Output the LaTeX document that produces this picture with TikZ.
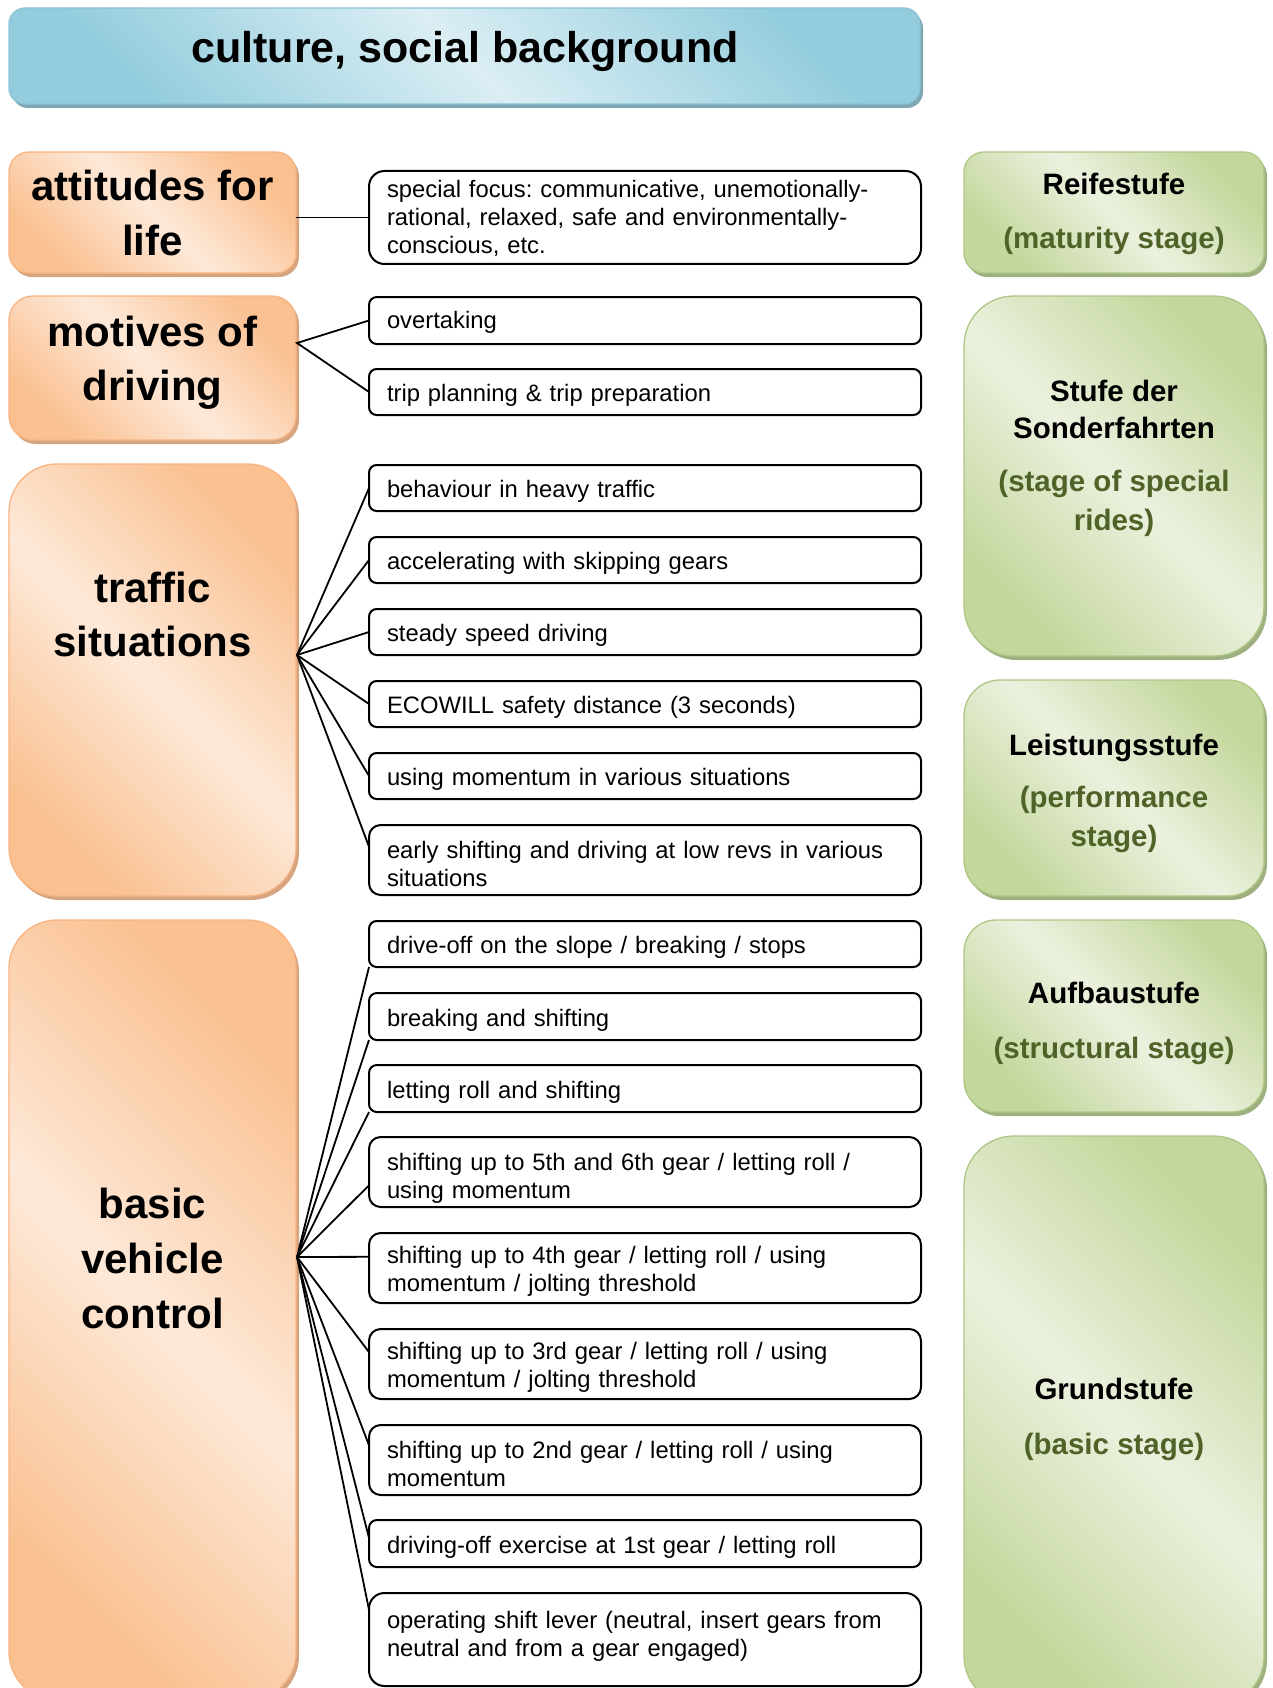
\documentclass[tikz,border=0pt]{standalone}
\usepackage{fontspec}
\setmainfont{Liberation Sans}
\usetikzlibrary{shadows,calc}
\definecolor{oLite}{HTML}{FDE9D9}
\definecolor{oDark}{HTML}{FAC090}
\definecolor{oEdge}{HTML}{F8B584}
\definecolor{oShd}{HTML}{D6A47E}
\definecolor{gLite}{HTML}{EBF1DE}
\definecolor{gDark}{HTML}{C3D69B}
\definecolor{gEdge}{HTML}{AEC785}
\definecolor{gShd}{HTML}{9EB07F}
\definecolor{gText}{HTML}{4F6228}
\definecolor{bLite}{HTML}{DBEEF4}
\definecolor{bDark}{HTML}{93CDDD}
\definecolor{bEdge}{HTML}{8AC4D4}
\definecolor{bShd}{HTML}{7FA7B3}
\newcommand{\bannerfont}{\fontsize{43}{50}\selectfont\bfseries}
\newcommand{\topicfont}{\fontsize{42}{54}\selectfont\bfseries}
\newcommand{\stagefont}{\fontsize{29.5}{37}\selectfont\bfseries}
\newcommand{\itemfont}{\fontsize{23.8}{28}\selectfont}
\frenchspacing

\begin{document}
\begin{tikzpicture}[x=1pt,y=-1pt,every node/.style={inner sep=0pt,outer sep=0pt},
  bigbox/.style={anchor=north west,line width=1.3pt,rounded corners=#1},
  banner/.style={bigbox=#1,draw=bEdge,top color=bDark,bottom color=bDark,middle color=bLite,shading angle=-45,
    drop shadow={shadow xshift=3pt,shadow yshift=-4pt,fill=bShd,opacity=1}},
  topic/.style={bigbox=#1,draw=oEdge,top color=oDark,bottom color=oDark,middle color=oLite,shading angle=-45,
    drop shadow={shadow xshift=3pt,shadow yshift=-4pt,fill=oShd,opacity=1}},
  stage/.style={bigbox=#1,draw=gEdge,top color=gDark,bottom color=gDark,middle color=gLite,shading angle=-45,
    drop shadow={shadow xshift=3pt,shadow yshift=-4pt,fill=gShd,opacity=1}},
  item/.style={anchor=north west,draw,fill=white,line width=2pt,rounded corners={#1pt/6},
    minimum height=#1pt,text width=516pt,inner xsep=18pt,align=left,font=\itemfont},
  lift/.style={execute at begin node={\rule{0pt}{#1pt}}},
  lift/.default=24.5,
  link/.style={line width=1.8pt}]
\path[use as bounding box] (0,0) rectangle (1273,1688);
% ---------- banner
\node[banner=16pt,minimum width=911pt,minimum height=96pt] (bg) at (9,8) {};
\node[anchor=base,font=\bannerfont] (bgT) at (465,63) {culture, social background};
% ---------- left column
\node[topic=20pt,minimum width=287pt,minimum height=121pt] (att) at (9,152) {};
\node[topic=24pt,minimum width=287pt,minimum height=144pt] (mot) at (9,296) {};
\node[topic=48pt,minimum width=287pt,minimum height=432pt] (trf) at (9,464) {};
\node[topic=48pt,minimum width=287pt,minimum height=780pt] (bvc) at (9,920) {};
\foreach \nm/\yy/\tx in {att1/201/attitudes for, att2/255/life, mot1/346/motives of, mot2/400/driving,
  trf1/602/traffic, trf2/656/situations, bvc1/1218/basic, bvc2/1273/vehicle, bvc3/1328/control}
  \node[anchor=base,font=\topicfont] (\nm) at (152.5,\yy) {\tx};
% ---------- right column
\node[stage=20pt,minimum width=300pt,minimum height=121pt] (reif) at (964,152) {};
\node[stage=50pt,minimum width=300pt,minimum height=360pt] (sond) at (964,296) {};
\node[stage=36pt,minimum width=300pt,minimum height=216pt] (leis) at (964,680) {};
\node[stage=32pt,minimum width=300pt,minimum height=192pt] (aufb) at (964,920) {};
\node[stage=50pt,minimum width=300pt,minimum height=570pt] (grund) at (964,1136) {};
\foreach \nm/\yy/\tx in {reif1/195/Reifestufe, sond1/401/Stufe der, sond2/438/Sonderfahrten,
  leis1/755/Leistungsstufe, aufb1/1003/Aufbaustufe, grund1/1399/Grundstufe}
  \node[anchor=base,font=\stagefont] (\nm) at (1114,\yy) {\tx};
\foreach \nm/\yy/\tx in {reif2/249/(maturity stage), sond3/491/(stage of special, sond4/530/rides),
  leis2/807/(performance, leis3/846/stage), aufb2/1058/(structural stage), grund2/1454/(basic stage)}
  \node[anchor=base,font=\stagefont,text=gText] (\nm) at (1114,\yy) {\tx};
% ---------- middle column
\node[item=93,lift=19.5] (focus) at (369,171) {special focus: communicative, unemotionally-\\rational, relaxed, safe and environmentally-\\conscious, etc.};
\node[item=47,lift=21.5] (overt) at (369,297) {overtaking};
\node[item=46,lift] (trip) at (369,369) {trip planning \& trip preparation};
\node[item=46,lift] (heavy) at (369,465) {behaviour in heavy traffic};
\node[item=46,lift] (accel) at (369,537) {accelerating with skipping gears};
\node[item=46,lift] (steady) at (369,609) {steady speed driving};
\node[item=46,lift] (eco) at (369,681) {ECOWILL safety distance (3 seconds)};
\node[item=46,lift] (mom) at (369,753) {using momentum in various situations};
\node[item=70,lift] (early) at (369,825) {early shifting and driving at low revs in various\\situations};
\node[item=46,lift] (drvoff) at (369,921) {drive-off on the slope / breaking / stops};
\node[item=47,lift] (brkshift) at (369,993) {breaking and shifting};
\node[item=47,lift] (roll) at (369,1065) {letting roll and shifting};
\node[item=70,lift=30.5] (g56) at (369,1137) {shifting up to 5th and 6th gear / letting roll /\\using momentum};
\node[item=70,lift] (g4) at (369,1233) {shifting up to 4th gear / letting roll / using\\momentum / jolting threshold};
\node[item=70,lift] (g3) at (369,1329) {shifting up to 3rd gear / letting roll / using\\momentum / jolting threshold};
\node[item=70,lift] (g2) at (369,1425) {shifting up to 2nd gear / letting roll / using\\momentum};
\node[item=47,lift] (g1) at (369,1520) {driving-off exercise at 1st gear / letting roll};
\node[item=93,execute at end node={\rule[-12pt]{0pt}{1pt}}] (lever) at (369,1593) {operating shift lever (neutral, insert gears from\\neutral and from a gear engaged)};
% ---------- connectors
\coordinate (motF) at (297,343);
\coordinate (trfF) at (297,655);
\coordinate (bvcF) at (297,1257);
\draw[link] (att.east|-focus.west) -- (focus.west);
\draw[link] (overt.west) -- (motF) -- (trip.west);
\foreach \t in {heavy,accel,steady,eco,mom} \draw[link] (trfF) -- (\t.west);
\draw[link] (trfF) -- ($(early.north west)!.31!(early.south west)$);
\foreach \t in {drvoff,brkshift,roll} \draw[link] (bvcF) -- (\t.south west);
\foreach \t/\f in {g56/.69,g4/.34,g3/.33,g2/.29,g1/.38,lever/.18}
  \draw[link] (bvcF) -- ($(\t.north west)!\f!(\t.south west)$);
\end{tikzpicture}
\end{document}
